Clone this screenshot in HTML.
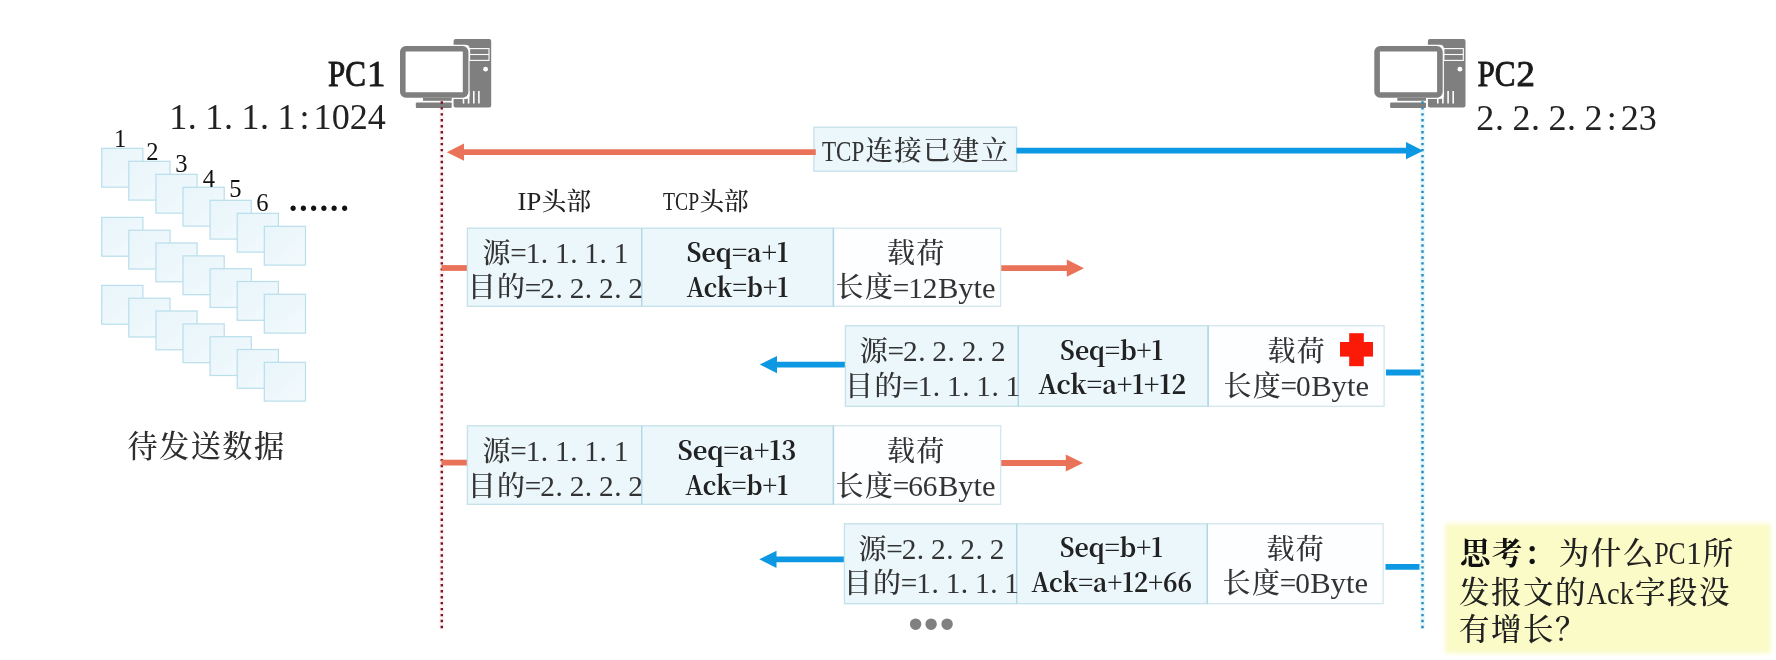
<!DOCTYPE html>
<html lang="zh-CN"><head><meta charset="utf-8"><title>TCP</title>
<style>html,body{margin:0;padding:0;background:#fff;overflow:hidden}svg{display:block}text{white-space:pre}</style>
</head><body>
<svg width="1776" height="660" viewBox="0 0 1776 660">
<defs>
<filter id="soft" x="-5%" y="-10%" width="110%" height="120%"><feGaussianBlur stdDeviation="2.2"/></filter>
<linearGradient id="sq" x1="0" y1="0" x2="1" y2="1"><stop offset="0" stop-color="#e8f5fa"/><stop offset="1" stop-color="#f3fafd"/></linearGradient>
<g id="pc">
<rect x="53.6" y="0" width="37.6" height="68.6" rx="2" fill="#7f7f7f"/>
<rect x="69.6" y="9.6" width="19.4" height="11.8" fill="none" stroke="#fff" stroke-width="1.1"/>
<line x1="69.6" y1="15.5" x2="89" y2="15.5" stroke="#fff" stroke-width="1.1"/>
<circle cx="85.6" cy="30.2" r="2.4" fill="#fff"/>
<line x1="63.5" y1="52" x2="63.5" y2="64.6" stroke="#fff" stroke-width="1.6"/>
<line x1="68.6" y1="52" x2="68.6" y2="64.6" stroke="#fff" stroke-width="1.6"/>
<line x1="73.8" y1="52" x2="73.8" y2="64.6" stroke="#fff" stroke-width="1.6"/>
<line x1="78.9" y1="52" x2="78.9" y2="64.6" stroke="#fff" stroke-width="1.6"/>
<rect x="-1.2" y="5.8" width="70.8" height="54.2" rx="4" fill="#fff"/>
<rect x="2.8" y="9.8" width="62.8" height="46.2" rx="3" fill="#fff" stroke="#7f7f7f" stroke-width="5.6"/>
<rect x="23" y="58.8" width="28.7" height="3" fill="#7f7f7f"/>
<rect x="15.8" y="63.6" width="35.9" height="5.4" rx="1" fill="#7f7f7f"/>
</g>
</defs>
<rect width="1776" height="660" fill="#fff"/>
<g opacity="0.999">
<rect x="101.7" y="148.3" width="41.2" height="38.8" fill="url(#sq)" stroke="#b9deec" stroke-width="1.2"/>
<rect x="128.8" y="161.3" width="41.2" height="38.8" fill="url(#sq)" stroke="#b9deec" stroke-width="1.2"/>
<rect x="155.9" y="174.3" width="41.2" height="38.8" fill="url(#sq)" stroke="#b9deec" stroke-width="1.2"/>
<rect x="183.0" y="187.3" width="41.2" height="38.8" fill="url(#sq)" stroke="#b9deec" stroke-width="1.2"/>
<rect x="210.1" y="200.3" width="41.2" height="38.8" fill="url(#sq)" stroke="#b9deec" stroke-width="1.2"/>
<rect x="237.2" y="213.3" width="41.2" height="38.8" fill="url(#sq)" stroke="#b9deec" stroke-width="1.2"/>
<rect x="264.3" y="226.3" width="41.2" height="38.8" fill="url(#sq)" stroke="#b9deec" stroke-width="1.2"/>
<rect x="101.7" y="217.4" width="41.2" height="38.8" fill="url(#sq)" stroke="#b9deec" stroke-width="1.2"/>
<rect x="128.8" y="230.2" width="41.2" height="38.8" fill="url(#sq)" stroke="#b9deec" stroke-width="1.2"/>
<rect x="155.9" y="243.0" width="41.2" height="38.8" fill="url(#sq)" stroke="#b9deec" stroke-width="1.2"/>
<rect x="183.0" y="255.9" width="41.2" height="38.8" fill="url(#sq)" stroke="#b9deec" stroke-width="1.2"/>
<rect x="210.1" y="268.7" width="41.2" height="38.8" fill="url(#sq)" stroke="#b9deec" stroke-width="1.2"/>
<rect x="237.2" y="281.5" width="41.2" height="38.8" fill="url(#sq)" stroke="#b9deec" stroke-width="1.2"/>
<rect x="264.3" y="294.3" width="41.2" height="38.8" fill="url(#sq)" stroke="#b9deec" stroke-width="1.2"/>
<rect x="101.7" y="285.4" width="41.2" height="38.8" fill="url(#sq)" stroke="#b9deec" stroke-width="1.2"/>
<rect x="128.8" y="298.2" width="41.2" height="38.8" fill="url(#sq)" stroke="#b9deec" stroke-width="1.2"/>
<rect x="155.9" y="311.0" width="41.2" height="38.8" fill="url(#sq)" stroke="#b9deec" stroke-width="1.2"/>
<rect x="183.0" y="323.9" width="41.2" height="38.8" fill="url(#sq)" stroke="#b9deec" stroke-width="1.2"/>
<rect x="210.1" y="336.7" width="41.2" height="38.8" fill="url(#sq)" stroke="#b9deec" stroke-width="1.2"/>
<rect x="237.2" y="349.5" width="41.2" height="38.8" fill="url(#sq)" stroke="#b9deec" stroke-width="1.2"/>
<rect x="264.3" y="362.3" width="41.2" height="38.8" fill="url(#sq)" stroke="#b9deec" stroke-width="1.2"/>
<text x="120.2" y="146.5" font-size="24.6" fill="#111" text-anchor="middle" font-family='"Liberation Serif", "Noto Serif CJK SC", serif'>1</text>
<text x="152.3" y="159.7" font-size="24.6" fill="#111" text-anchor="middle" font-family='"Liberation Serif", "Noto Serif CJK SC", serif'>2</text>
<text x="181.4" y="171.5" font-size="24.6" fill="#111" text-anchor="middle" font-family='"Liberation Serif", "Noto Serif CJK SC", serif'>3</text>
<text x="208.8" y="186.7" font-size="24.6" fill="#111" text-anchor="middle" font-family='"Liberation Serif", "Noto Serif CJK SC", serif'>4</text>
<text x="235.3" y="197.3" font-size="24.6" fill="#111" text-anchor="middle" font-family='"Liberation Serif", "Noto Serif CJK SC", serif'>5</text>
<text x="262.4" y="210.6" font-size="24.6" fill="#111" text-anchor="middle" font-family='"Liberation Serif", "Noto Serif CJK SC", serif'>6</text>
<text x="293.0 303.3 313.6 323.9 334.2 344.5" y="210.6" font-size="33" font-weight="700" fill="#111" text-anchor="middle" font-family='"Liberation Serif", "Noto Serif CJK SC", serif'>......</text>
<text x="142.6 174.2 205.8 237.4 269.0" y="457.0" font-size="30.18" font-weight="500" fill="#2e2e2e" text-anchor="middle" font-family='"Noto Serif CJK SC", "Liberation Serif", serif'>待发送数据</text>
<use href="#pc" x="400" y="39"/>
<use href="#pc" x="1374.3" y="39"/>
<line x1="441.8" y1="109" x2="441.8" y2="629" stroke="#fef1f2" stroke-width="5"/>
<line x1="441.8" y1="101.24" x2="441.8" y2="628.4" stroke="#7a1322" stroke-width="2.4" stroke-dasharray="2.4 3.561"/>
<line x1="1422.5" y1="109" x2="1422.5" y2="629" stroke="#e8f9fe" stroke-width="5"/>
<line x1="1422.5" y1="101.24" x2="1422.5" y2="628.4" stroke="#2b89b8" stroke-width="2.4" stroke-dasharray="2.4 3.561"/>
<text x="328.0" y="86.2" font-size="36.8" font-weight="400" fill="#1a1a1a" textLength="38.0" lengthAdjust="spacingAndGlyphs" font-family='"Liberation Serif", "Noto Serif CJK SC", serif' stroke="#1a1a1a" stroke-width="0.95">PC</text>
<text x="376.1" y="86.2" font-size="36.8" font-weight="400" fill="#1a1a1a" text-anchor="middle" font-family='"Liberation Serif", "Noto Serif CJK SC", serif' stroke="#1a1a1a" stroke-width="0.95">1</text>
<text x="1477.6" y="86.2" font-size="36.8" font-weight="400" fill="#1a1a1a" textLength="38.0" lengthAdjust="spacingAndGlyphs" font-family='"Liberation Serif", "Noto Serif CJK SC", serif' stroke="#1a1a1a" stroke-width="0.95">PC</text>
<text x="1525.7" y="86.2" font-size="36.8" font-weight="400" fill="#1a1a1a" text-anchor="middle" font-family='"Liberation Serif", "Noto Serif CJK SC", serif' stroke="#1a1a1a" stroke-width="0.95">2</text>
<text x="178.2 192.3 214.3 228.4 250.4 264.5 286.5 304.6 322.6 340.7 358.7 376.8" y="129.4" font-size="36.1" font-weight="400" fill="#222" text-anchor="middle" font-family='"Liberation Serif", "Noto Serif CJK SC", serif'>1.1.1.1:1024</text>
<text x="1485.3 1499.4 1521.4 1535.5 1557.5 1571.6 1593.6 1611.7 1629.7 1647.8" y="129.8" font-size="36.1" font-weight="400" fill="#222" text-anchor="middle" font-family='"Liberation Serif", "Noto Serif CJK SC", serif'>2.2.2.2:23</text>
<rect x="813.9" y="127.2" width="202.7" height="44" fill="#ebf7fb" stroke="#c4e1ec" stroke-width="1.3"/>
<line x1="815.8" y1="152.2" x2="463.0" y2="152.2" stroke="#ea7258" stroke-width="5.8"/>
<polygon points="446.8,152.2 464.0,143.6 464.0,160.8" fill="#ea7258"/>
<line x1="1016.4" y1="150.7" x2="1407.0" y2="150.7" stroke="#0c98e2" stroke-width="5.8"/>
<polygon points="1423.2,150.7 1406.0,142.1 1406.0,159.3" fill="#0c98e2"/>
<text x="822.0" y="160.5" font-size="28.8" font-weight="400" fill="#333" textLength="42.4" lengthAdjust="spacingAndGlyphs" font-family='"Liberation Serif", "Noto Serif CJK SC", serif'>TCP</text>
<text x="879.2 908.0 936.8 965.6 994.4" y="160.2" font-size="27.50" font-weight="500" fill="#333" text-anchor="middle" font-family='"Noto Serif CJK SC", "Liberation Serif", serif'>连接已建立</text>
<text x="517.6" y="210.4" font-size="24.6" font-weight="400" fill="#222" textLength="23.8" lengthAdjust="spacingAndGlyphs" font-family='"Liberation Serif", "Noto Serif CJK SC", serif'>IP</text>
<text x="554.1 578.7" y="210.1" font-size="24.60" font-weight="500" fill="#222" text-anchor="middle" font-family='"Noto Serif CJK SC", "Liberation Serif", serif'>头部</text>
<text x="663.0" y="210.4" font-size="24.6" font-weight="400" fill="#222" textLength="36.1" lengthAdjust="spacingAndGlyphs" font-family='"Liberation Serif", "Noto Serif CJK SC", serif'>TCP</text>
<text x="711.8 736.4" y="210.1" font-size="24.60" font-weight="500" fill="#222" text-anchor="middle" font-family='"Noto Serif CJK SC", "Liberation Serif", serif'>头部</text>
<line x1="441.5" y1="268" x2="468" y2="268" stroke="#ea7258" stroke-width="5.8"/>
<line x1="1000" y1="268.2" x2="1067.8" y2="268.2" stroke="#ea7258" stroke-width="5.8"/>
<polygon points="1084,268.2 1066.8,259.6 1066.8,276.8" fill="#ea7258"/>
<rect x="833.4" y="228.2" width="167.3" height="78.1" fill="#fdfeff" stroke="#d3e6ee" stroke-width="1.3"/>
<rect x="467.4" y="228.2" width="366.0" height="78.1" fill="#ebf7fb" stroke="#c4e1ec" stroke-width="1.3"/>
<line x1="641.7" y1="228.2" x2="641.7" y2="306.3" stroke="#b2d7e6" stroke-width="1.4"/>
<line x1="833.4" y1="228.2" x2="833.4" y2="306.3" stroke="#b2d7e6" stroke-width="1.4"/>
<text x="496.4" y="262.5" font-size="27.98" font-weight="500" fill="#333" text-anchor="middle" font-family='"Noto Serif CJK SC", "Liberation Serif", serif'>源</text>
<text x="518.4 533.1 544.5 562.4 573.8 591.7 603.1 621.0" y="262.9" font-size="29.3" font-weight="400" fill="#333" text-anchor="middle" font-family='"Liberation Serif", "Noto Serif CJK SC", serif'>=1.1.1.1</text>
<text x="481.8 511.1" y="297.3" font-size="27.98" font-weight="500" fill="#333" text-anchor="middle" font-family='"Noto Serif CJK SC", "Liberation Serif", serif'>目的</text>
<text x="533.1 547.7 559.2 577.0 588.5 606.3 617.8 635.6" y="297.7" font-size="29.3" font-weight="400" fill="#333" text-anchor="middle" font-family='"Liberation Serif", "Noto Serif CJK SC", serif'>=2.2.2.2</text>
<text x="737.5" y="261.8" font-size="26.2" font-weight="700" fill="#222" text-anchor="middle" textLength="102" lengthAdjust="spacingAndGlyphs" font-family='"Noto Serif CJK SC", "Liberation Serif", serif'>Seq=a+1</text>
<text x="737.5" y="297.2" font-size="26.2" font-weight="700" fill="#222" text-anchor="middle" textLength="102" lengthAdjust="spacingAndGlyphs" font-family='"Noto Serif CJK SC", "Liberation Serif", serif'>Ack=b+1</text>
<text x="900.9 930.2" y="262.5" font-size="27.98" font-weight="500" fill="#333" text-anchor="middle" font-family='"Noto Serif CJK SC", "Liberation Serif", serif'>载荷</text>
<text x="849.6 878.9" y="297.3" font-size="27.98" font-weight="500" fill="#333" text-anchor="middle" font-family='"Noto Serif CJK SC", "Liberation Serif", serif'>长度</text>
<text x="900.9 915.5 930.2" y="297.7" font-size="29.3" font-weight="400" fill="#333" text-anchor="middle" font-family='"Liberation Serif", "Noto Serif CJK SC", serif'>=12</text>
<text x="937.9" y="297.7" font-size="29.3" font-weight="400" fill="#333" textLength="57.8" lengthAdjust="spacingAndGlyphs" font-family='"Liberation Serif", "Noto Serif CJK SC", serif'>Byte</text>
<line x1="846" y1="364.6" x2="776.0" y2="364.6" stroke="#0c98e2" stroke-width="5.8"/>
<polygon points="759.8,364.6 777.0,356.0 777.0,373.2" fill="#0c98e2"/>
<line x1="1386" y1="372.5" x2="1420.5" y2="372.5" stroke="#0c98e2" stroke-width="5.8"/>
<rect x="1208.1" y="325.8" width="176.0" height="80.5" fill="#fdfeff" stroke="#d3e6ee" stroke-width="1.3"/>
<rect x="845.4" y="325.8" width="362.7" height="80.5" fill="#ebf7fb" stroke="#c4e1ec" stroke-width="1.3"/>
<line x1="1018.3" y1="325.8" x2="1018.3" y2="406.3" stroke="#b2d7e6" stroke-width="1.4"/>
<line x1="1208.1" y1="325.8" x2="1208.1" y2="406.3" stroke="#b2d7e6" stroke-width="1.4"/>
<text x="873.7" y="360.9" font-size="27.98" font-weight="500" fill="#333" text-anchor="middle" font-family='"Noto Serif CJK SC", "Liberation Serif", serif'>源</text>
<text x="895.7 910.4 921.8 939.7 951.1 969.0 980.4 998.3" y="361.3" font-size="29.3" font-weight="400" fill="#333" text-anchor="middle" font-family='"Liberation Serif", "Noto Serif CJK SC", serif'>=2.2.2.2</text>
<text x="859.1 888.4" y="395.7" font-size="27.98" font-weight="500" fill="#333" text-anchor="middle" font-family='"Noto Serif CJK SC", "Liberation Serif", serif'>目的</text>
<text x="910.4 925.0 936.5 954.3 965.8 983.6 995.1 1012.9" y="396.1" font-size="29.3" font-weight="400" fill="#333" text-anchor="middle" font-family='"Liberation Serif", "Noto Serif CJK SC", serif'>=1.1.1.1</text>
<text x="1111.6" y="360.2" font-size="26.2" font-weight="700" fill="#222" text-anchor="middle" textLength="103" lengthAdjust="spacingAndGlyphs" font-family='"Noto Serif CJK SC", "Liberation Serif", serif'>Seq=b+1</text>
<text x="1112.2" y="394.4" font-size="26.2" font-weight="700" fill="#222" text-anchor="middle" textLength="148" lengthAdjust="spacingAndGlyphs" font-family='"Noto Serif CJK SC", "Liberation Serif", serif'>Ack=a+1+12</text>
<text x="1281.5 1310.8" y="360.9" font-size="27.98" font-weight="500" fill="#333" text-anchor="middle" font-family='"Noto Serif CJK SC", "Liberation Serif", serif'>载荷</text>
<text x="1237.5 1266.8" y="395.7" font-size="27.98" font-weight="500" fill="#333" text-anchor="middle" font-family='"Noto Serif CJK SC", "Liberation Serif", serif'>长度</text>
<text x="1288.8 1303.4" y="396.1" font-size="29.3" font-weight="400" fill="#333" text-anchor="middle" font-family='"Liberation Serif", "Noto Serif CJK SC", serif'>=0</text>
<text x="1311.2" y="396.1" font-size="29.3" font-weight="400" fill="#333" textLength="57.8" lengthAdjust="spacingAndGlyphs" font-family='"Liberation Serif", "Noto Serif CJK SC", serif'>Byte</text>
<rect x="1349.2" y="333.2" width="14.6" height="33" fill="#fb1a08"/><rect x="1340" y="342" width="33" height="14.6" fill="#fb1a08"/>
<line x1="441.5" y1="462.6" x2="468" y2="462.6" stroke="#ea7258" stroke-width="5.8"/>
<line x1="998" y1="463" x2="1066.8" y2="463" stroke="#ea7258" stroke-width="5.8"/>
<polygon points="1083,463 1065.8,454.4 1065.8,471.6" fill="#ea7258"/>
<rect x="833.4" y="425.8" width="167.3" height="78.5" fill="#fdfeff" stroke="#d3e6ee" stroke-width="1.3"/>
<rect x="467.4" y="425.8" width="366.0" height="78.5" fill="#ebf7fb" stroke="#c4e1ec" stroke-width="1.3"/>
<line x1="641.7" y1="425.8" x2="641.7" y2="504.3" stroke="#b2d7e6" stroke-width="1.4"/>
<line x1="833.4" y1="425.8" x2="833.4" y2="504.3" stroke="#b2d7e6" stroke-width="1.4"/>
<text x="496.4" y="460.7" font-size="27.98" font-weight="500" fill="#333" text-anchor="middle" font-family='"Noto Serif CJK SC", "Liberation Serif", serif'>源</text>
<text x="518.4 533.1 544.5 562.4 573.8 591.7 603.1 621.0" y="461.1" font-size="29.3" font-weight="400" fill="#333" text-anchor="middle" font-family='"Liberation Serif", "Noto Serif CJK SC", serif'>=1.1.1.1</text>
<text x="481.8 511.1" y="495.5" font-size="27.98" font-weight="500" fill="#333" text-anchor="middle" font-family='"Noto Serif CJK SC", "Liberation Serif", serif'>目的</text>
<text x="533.1 547.7 559.2 577.0 588.5 606.3 617.8 635.6" y="495.9" font-size="29.3" font-weight="400" fill="#333" text-anchor="middle" font-family='"Liberation Serif", "Noto Serif CJK SC", serif'>=2.2.2.2</text>
<text x="736.9" y="460.0" font-size="26.2" font-weight="700" fill="#222" text-anchor="middle" textLength="119" lengthAdjust="spacingAndGlyphs" font-family='"Noto Serif CJK SC", "Liberation Serif", serif'>Seq=a+13</text>
<text x="736.8" y="495.0" font-size="26.2" font-weight="700" fill="#222" text-anchor="middle" textLength="103" lengthAdjust="spacingAndGlyphs" font-family='"Noto Serif CJK SC", "Liberation Serif", serif'>Ack=b+1</text>
<text x="900.9 930.2" y="460.7" font-size="27.98" font-weight="500" fill="#333" text-anchor="middle" font-family='"Noto Serif CJK SC", "Liberation Serif", serif'>载荷</text>
<text x="849.6 878.9" y="495.5" font-size="27.98" font-weight="500" fill="#333" text-anchor="middle" font-family='"Noto Serif CJK SC", "Liberation Serif", serif'>长度</text>
<text x="900.9 915.5 930.2" y="495.9" font-size="29.3" font-weight="400" fill="#333" text-anchor="middle" font-family='"Liberation Serif", "Noto Serif CJK SC", serif'>=66</text>
<text x="937.9" y="495.9" font-size="29.3" font-weight="400" fill="#333" textLength="57.8" lengthAdjust="spacingAndGlyphs" font-family='"Liberation Serif", "Noto Serif CJK SC", serif'>Byte</text>
<line x1="845" y1="559.3" x2="775.5" y2="559.3" stroke="#0c98e2" stroke-width="5.8"/>
<polygon points="759.3,559.3 776.5,550.7 776.5,567.9" fill="#0c98e2"/>
<line x1="1385.5" y1="566.8" x2="1419.5" y2="566.8" stroke="#0c98e2" stroke-width="5.8"/>
<rect x="1207.3" y="523.8" width="175.8" height="79.9" fill="#fdfeff" stroke="#d3e6ee" stroke-width="1.3"/>
<rect x="844.4" y="523.8" width="362.9" height="79.9" fill="#ebf7fb" stroke="#c4e1ec" stroke-width="1.3"/>
<line x1="1016.7" y1="523.8" x2="1016.7" y2="603.7" stroke="#b2d7e6" stroke-width="1.4"/>
<line x1="1207.3" y1="523.8" x2="1207.3" y2="603.7" stroke="#b2d7e6" stroke-width="1.4"/>
<text x="872.4" y="558.7" font-size="27.98" font-weight="500" fill="#333" text-anchor="middle" font-family='"Noto Serif CJK SC", "Liberation Serif", serif'>源</text>
<text x="894.4 909.1 920.5 938.4 949.8 967.7 979.1 997.0" y="559.1" font-size="29.3" font-weight="400" fill="#333" text-anchor="middle" font-family='"Liberation Serif", "Noto Serif CJK SC", serif'>=2.2.2.2</text>
<text x="857.8 887.1" y="592.5" font-size="27.98" font-weight="500" fill="#333" text-anchor="middle" font-family='"Noto Serif CJK SC", "Liberation Serif", serif'>目的</text>
<text x="909.1 923.7 935.2 953.0 964.5 982.3 993.8 1011.6" y="592.9" font-size="29.3" font-weight="400" fill="#333" text-anchor="middle" font-family='"Liberation Serif", "Noto Serif CJK SC", serif'>=1.1.1.1</text>
<text x="1111.3" y="557.3" font-size="26.2" font-weight="700" fill="#222" text-anchor="middle" textLength="103" lengthAdjust="spacingAndGlyphs" font-family='"Noto Serif CJK SC", "Liberation Serif", serif'>Seq=b+1</text>
<text x="1111.7" y="592.4" font-size="26.2" font-weight="700" fill="#222" text-anchor="middle" textLength="161" lengthAdjust="spacingAndGlyphs" font-family='"Noto Serif CJK SC", "Liberation Serif", serif'>Ack=a+12+66</text>
<text x="1280.5 1309.8" y="558.7" font-size="27.98" font-weight="500" fill="#333" text-anchor="middle" font-family='"Noto Serif CJK SC", "Liberation Serif", serif'>载荷</text>
<text x="1236.6 1265.9" y="592.5" font-size="27.98" font-weight="500" fill="#333" text-anchor="middle" font-family='"Noto Serif CJK SC", "Liberation Serif", serif'>长度</text>
<text x="1287.9 1302.5" y="592.9" font-size="29.3" font-weight="400" fill="#333" text-anchor="middle" font-family='"Liberation Serif", "Noto Serif CJK SC", serif'>=0</text>
<text x="1310.2" y="592.9" font-size="29.3" font-weight="400" fill="#333" textLength="57.8" lengthAdjust="spacingAndGlyphs" font-family='"Liberation Serif", "Noto Serif CJK SC", serif'>Byte</text>
<text x="915.5 931.2 947" y="638.3" font-size="42" fill="#808080" text-anchor="middle" font-family='"Liberation Sans", sans-serif'>•••</text>
<rect x="1445.2" y="523.6" width="325.4" height="129.8" fill="#fafbc7" filter="url(#soft)"/>
<text x="1475.4 1507.4 1539.4" y="563.6" font-size="30.56" font-weight="700" fill="#111" text-anchor="middle" font-family='"Noto Serif CJK SC", "Liberation Serif", serif'>思考：</text>
<text x="1574.0 1606.0 1638.0" y="563.6" font-size="30.56" font-weight="500" fill="#222" text-anchor="middle" font-family='"Noto Serif CJK SC", "Liberation Serif", serif'>为什么</text>
<text x="1654.4" y="564.0" font-size="32" font-weight="400" fill="#222" textLength="31.2" lengthAdjust="spacingAndGlyphs" font-family='"Liberation Serif", "Noto Serif CJK SC", serif'>PC</text>
<text x="1694.0" y="564.0" font-size="32" font-weight="400" fill="#222" text-anchor="middle" font-family='"Liberation Serif", "Noto Serif CJK SC", serif'>1</text>
<text x="1718.0" y="563.6" font-size="30.56" font-weight="500" fill="#222" text-anchor="middle" font-family='"Noto Serif CJK SC", "Liberation Serif", serif'>所</text>
<text x="1474.2 1506.2 1538.2 1570.2" y="603.1" font-size="30.56" font-weight="500" fill="#222" text-anchor="middle" font-family='"Noto Serif CJK SC", "Liberation Serif", serif'>发报文的</text>
<text x="1586.6" y="603.5" font-size="32" font-weight="400" fill="#222" textLength="47.2" lengthAdjust="spacingAndGlyphs" font-family='"Liberation Serif", "Noto Serif CJK SC", serif'>Ack</text>
<text x="1650.2 1682.2 1714.2" y="603.1" font-size="30.56" font-weight="500" fill="#222" text-anchor="middle" font-family='"Noto Serif CJK SC", "Liberation Serif", serif'>字段没</text>
<text x="1474.2 1506.2 1538.2 1570.2" y="640.2" font-size="30.56" font-weight="500" fill="#222" text-anchor="middle" font-family='"Noto Serif CJK SC", "Liberation Serif", serif'>有增长？</text>
</g>
</svg>
</body></html>
